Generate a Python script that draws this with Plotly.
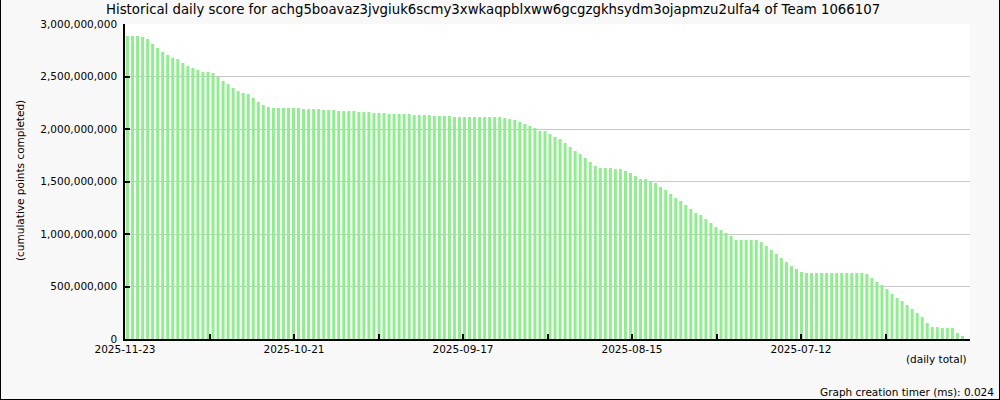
import pandas as pd
import plotly.graph_objects as go

# ---- data (billions of cumulative points), newest day first ----
start_date = "2025-11-23"
n_days = 167
dates = [d.strftime("%Y-%m-%d") for d in pd.date_range(end=start_date, periods=n_days)[::-1]]

scores_billion = [
    2.886, 2.886, 2.886, 2.876, 2.857, 2.810, 2.771, 2.733, 2.705, 2.679,
    2.667, 2.629, 2.600, 2.581, 2.562, 2.543, 2.543, 2.533, 2.495, 2.457,
    2.429, 2.390, 2.362, 2.343, 2.333, 2.295, 2.257, 2.229, 2.210, 2.200,
    2.200, 2.200, 2.200, 2.200, 2.200, 2.190, 2.190, 2.190, 2.190, 2.181,
    2.181, 2.181, 2.171, 2.171, 2.171, 2.171, 2.162, 2.162, 2.162, 2.152,
    2.152, 2.152, 2.143, 2.143, 2.143, 2.143, 2.143, 2.133, 2.133, 2.133,
    2.133, 2.124, 2.124, 2.124, 2.124, 2.114, 2.114, 2.114, 2.114, 2.114,
    2.114, 2.114, 2.114, 2.114, 2.114, 2.105, 2.095, 2.086, 2.067, 2.048,
    2.029, 2.010, 1.981, 1.981, 1.952, 1.924, 1.905, 1.867, 1.829, 1.790,
    1.762, 1.724, 1.686, 1.648, 1.629, 1.629, 1.629, 1.619, 1.619, 1.600,
    1.581, 1.552, 1.524, 1.524, 1.505, 1.486, 1.448, 1.419, 1.381, 1.343,
    1.314, 1.276, 1.238, 1.200, 1.181, 1.143, 1.105, 1.067, 1.038, 1.010,
    0.981, 0.943, 0.943, 0.943, 0.943, 0.943, 0.924, 0.886, 0.848, 0.810,
    0.771, 0.733, 0.695, 0.667, 0.638, 0.629, 0.629, 0.629, 0.629, 0.629,
    0.629, 0.629, 0.629, 0.629, 0.629, 0.629, 0.629, 0.619, 0.581, 0.543,
    0.514, 0.476, 0.429, 0.390, 0.362, 0.324, 0.286, 0.248, 0.210, 0.152,
    0.114, 0.114, 0.105, 0.105, 0.105, 0.057, 0.029,
]
scores = [v * 1e9 for v in scores_billion]

x_tick_labels = ["2025-11-23", "", "2025-10-21", "", "2025-09-17", "",
                 "2025-08-15", "", "2025-07-12", "", ""]
y_tick_values = [0, 500e6, 1000e6, 1500e6, 2000e6, 2500e6, 3000e6]
y_tick_labels = ["0", "500,000,000", "1,000,000,000", "1,500,000,000",
                 "2,000,000,000", "2,500,000,000", "3,000,000,000"]

title_text = ("Historical daily score for achg5boavaz3jvgiuk6scmy3xwkaqpblxww6gcgzgkhsydm3ojapmzu2ulfa4"
              " of Team 1066107")

# ---- layout geometry ----
W, H = 1000, 400
L, R, T, B = 125, 30, 24, 61
PW, PH = W - L - R, H - T - B

x_hi = pd.Timestamp(start_date) + pd.Timedelta(hours=12)
x_lo = x_hi - pd.Timedelta(days=168)
tick_step = pd.Timedelta(days=168 / 10)
tick_vals = [(x_hi - tick_step * k).strftime("%Y-%m-%d %H:%M:%S") for k in range(11)]

FONT = "DejaVu Sans"

fig = go.Figure(go.Bar(x=dates, y=scores, marker=dict(color="#90ee90", line=dict(width=0))))

fig.update_layout(
    width=W, height=H,
    margin=dict(l=L, r=R, t=T, b=B, pad=0),
    paper_bgcolor="#f8f8f8", plot_bgcolor="#ffffff",
    font=dict(family=FONT, size=10.5, color="#000000"),
    showlegend=False, bargap=0.4,
    xaxis=dict(type="date", range=[x_hi.strftime("%Y-%m-%d %H:%M:%S"), x_lo.strftime("%Y-%m-%d %H:%M:%S")],
               tickmode="array", tickvals=tick_vals, ticktext=x_tick_labels,
               ticks="inside", ticklen=5, tickcolor="#000", tickwidth=1.5,
               showline=True, linecolor="#000", linewidth=1.5, showgrid=False, zeroline=False,
               tickfont=dict(family=FONT, size=10.5)),
    yaxis=dict(range=[0, 3e9], tickmode="array", tickvals=y_tick_values, ticktext=y_tick_labels,
               ticks="inside", ticklen=5, tickcolor="#000", tickwidth=1.5,
               showline=True, linecolor="#000", linewidth=1.5,
               showgrid=True, gridcolor="#c8c8c8", gridwidth=1, zeroline=False,
               tickfont=dict(family=FONT, size=10.5), ticklabelstandoff=4),
)

def px_x(X):
    return (X - L) / PW

def px_y(Y):
    return (H - B - Y) / PH

fig.add_annotation(text=title_text, xref="paper", yref="paper", x=px_x(493), y=px_y(10),
                   showarrow=False, font=dict(family=FONT, size=13.3), xanchor="center", yanchor="middle")
fig.add_annotation(text="(cumulative points completed)", xref="paper", yref="paper",
                   x=px_x(20), y=px_y(181), textangle=-90, showarrow=False,
                   font=dict(family=FONT, size=10.5), xanchor="center", yanchor="middle")
fig.add_annotation(text="(daily total)", xref="paper", yref="paper", x=px_x(969), y=px_y(359),
                   showarrow=False, font=dict(family=FONT, size=10.5), xanchor="right", yanchor="middle")
fig.add_annotation(text="Graph creation timer (ms): 0.024", xref="paper", yref="paper",
                   x=px_x(996), y=px_y(392), showarrow=False, font=dict(family=FONT, size=10.5),
                   xanchor="right", yanchor="middle")

# outer frame lines (left, right, bottom)
for (x0, y0, x1, y1) in [(0.5, 0, 0.5, 400), (999.5, 0, 999.5, 400), (0, 399.5, 1000, 399.5)]:
    fig.add_shape(type="line", xref="paper", yref="paper",
                  x0=px_x(x0), y0=px_y(y0), x1=px_x(x1), y1=px_y(y1),
                  line=dict(color="#000", width=1))

fig.write_html("out.html", config={"displayModeBar": False},
               post_script="document.body.style.margin='0';")
